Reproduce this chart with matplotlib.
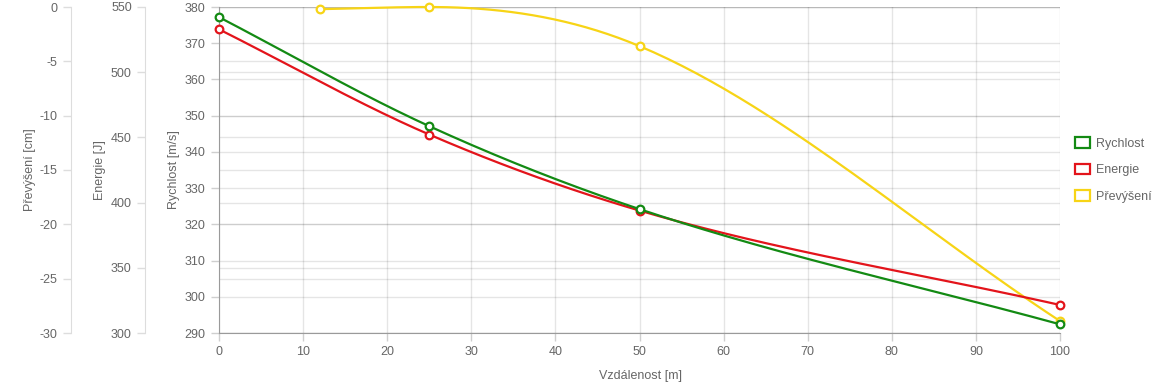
#!/usr/bin/env python3
"""Velocity, energy and drop vs. distance — three left-hand y axes, one x axis."""
import numpy as np
import matplotlib

matplotlib.use("Agg")
import matplotlib.pyplot as plt
from matplotlib.patches import Patch

plt.rcParams["font.family"] = ["Liberation Sans", "DejaVu Sans"]
plt.rcParams["axes.unicode_minus"] = False

# data
dist_v = [0, 25, 50, 100]
rychlost = [377.2, 347.1, 324.2, 292.4]      # m/s
dist_e = [0, 25, 50, 100]
energie = [532.9, 452.2, 393.9, 321.5]       # J
dist_p = [12, 25, 50, 100]
prevyseni = [-0.2, 0.0, -3.6, -28.9]         # cm

x_ticks = [0, 10, 20, 30, 40, 50, 60, 70, 80, 90, 100]
v_ticks = [290, 300, 310, 320, 330, 340, 350, 360, 370, 380]
e_ticks = [300, 350, 400, 450, 500, 550]
p_ticks = [-30, -25, -20, -15, -10, -5, 0]

GREEN = "#138a13"
RED = "#e3141b"
YELLOW = "#f7d416"
TXT = "#666666"


def monotone(xs, ys, n=60):
    """Monotone cubic curve through the points (same idea as Chart.js)."""
    xs = np.asarray(xs, float)
    ys = np.asarray(ys, float)
    h = np.diff(xs)
    d = np.diff(ys) / h
    m = np.zeros(len(xs))
    m[0], m[-1] = d[0], d[-1]
    for i in range(1, len(xs) - 1):
        m[i] = 0.0 if d[i - 1] * d[i] <= 0 else (d[i - 1] + d[i]) / 2
    for i in range(len(d)):
        if d[i] == 0:
            m[i] = m[i + 1] = 0.0
            continue
        a, b = m[i] / d[i], m[i + 1] / d[i]
        s = a * a + b * b
        if s > 9:
            tau = 3 / np.sqrt(s)
            m[i], m[i + 1] = tau * a * d[i], tau * b * d[i]
    px, py = [], []
    for i in range(len(d)):
        t = np.linspace(0, 1, n)
        h00 = 2 * t**3 - 3 * t**2 + 1
        h10 = t**3 - 2 * t**2 + t
        h01 = -2 * t**3 + 3 * t**2
        h11 = t**3 - t**2
        px.append(xs[i] + t * h[i])
        py.append(h00 * ys[i] + h10 * h[i] * m[i] + h01 * ys[i + 1] + h11 * h[i] * m[i + 1])
    return np.concatenate(px), np.concatenate(py)


fig = plt.figure(figsize=(11.6, 3.86), dpi=100)
W, H = 1160, 386
ax = fig.add_axes([219 / W, (H - 333) / H, (1060 - 219) / W, 326 / H])
ax_e = ax.twinx()
ax_p = ax.twinx()
ax.set_zorder(ax_p.get_zorder() + 1)
ax.patch.set_visible(False)

grid_kw = dict(color="black", alpha=0.1, lw=1)

# main axis: Rychlost + x
ax.set_xlim(0, 100)
ax.set_ylim(290, 380)
ax.set_xticks(x_ticks)
ax.set_yticks(v_ticks)
ax.grid(True, **grid_kw)
for s in ("top", "right"):
    ax.spines[s].set_visible(False)
for s in ("left", "bottom"):
    ax.spines[s].set_color("#9a9a9a")
ax.tick_params(colors="#cfcfcf", labelcolor=TXT, labelsize=9, length=6, width=1)
ax.set_ylabel("Rychlost [m/s]", color=TXT, fontsize=9)
ax.yaxis.set_label_coords(-0.0464, 0.5)
ax.set_xlabel("Vzdálenost [m]", color=TXT, fontsize=9)
ax.xaxis.set_label_coords(0.5006, -0.113)

# extra left axes
for a, lim, ticks, lab, pos, lpos in (
        (ax_e, (300, 550), e_ticks, "Energie [J]", -0.088, -0.1344),
        (ax_p, (-30, 0), p_ticks, "Převýšení [cm]", -0.176, -0.2176)):
    a.set_ylim(*lim)
    a.set_yticks(ticks)
    a.yaxis.set_ticks_position("left")
    a.yaxis.set_label_position("left")
    for s in ("top", "right", "bottom"):
        a.spines[s].set_visible(False)
    a.spines["left"].set_position(("axes", pos))
    a.spines["left"].set_color("#dddddd")
    a.tick_params(axis="y", colors="#dddddd", labelcolor=TXT, labelsize=9,
                  length=6, width=1, left=True, labelleft=True,
                  right=False, labelright=False)
    a.yaxis.grid(True, **grid_kw)
    a.set_ylabel(lab, color=TXT, fontsize=9)
    a.yaxis.set_label_coords(lpos, 0.5)

# series, all drawn in the top axes so they sit above every grid
series = (
    (dist_p, prevyseni, ax_p, YELLOW, 2),
    (dist_e, energie, ax_e, RED, 3),
    (dist_v, rychlost, ax, GREEN, 4),
)
for xs, ys, a, col, z in series:
    cx, cy = monotone(xs, ys)
    ax.plot(cx, cy, color=col, lw=1.6, transform=a.transData, zorder=z,
            clip_on=False, solid_capstyle="round")
    ax.plot(xs, ys, ls="none", marker="o", ms=5.5, mfc="white", mec=col,
            mew=1.6, transform=a.transData, zorder=z + 0.5, clip_on=False)

ax.set_xlim(0, 100)
ax.set_ylim(290, 380)
ax_e.set_ylim(300, 550)
ax_p.set_ylim(-30, 0)

handles = [Patch(facecolor="white", edgecolor=c, lw=1.6) for c in (GREEN, RED, YELLOW)]
fig.legend(handles, ["Rychlost", "Energie", "Převýšení"], loc="center left",
           bbox_to_anchor=(1064 / W, 1 - 170 / H), frameon=False,
           fontsize=9, labelcolor=TXT, handlelength=1.15, handleheight=0.95,
           handletextpad=0.5, labelspacing=1.08)

fig.savefig("out.png", dpi=100)
plt.close(fig)
